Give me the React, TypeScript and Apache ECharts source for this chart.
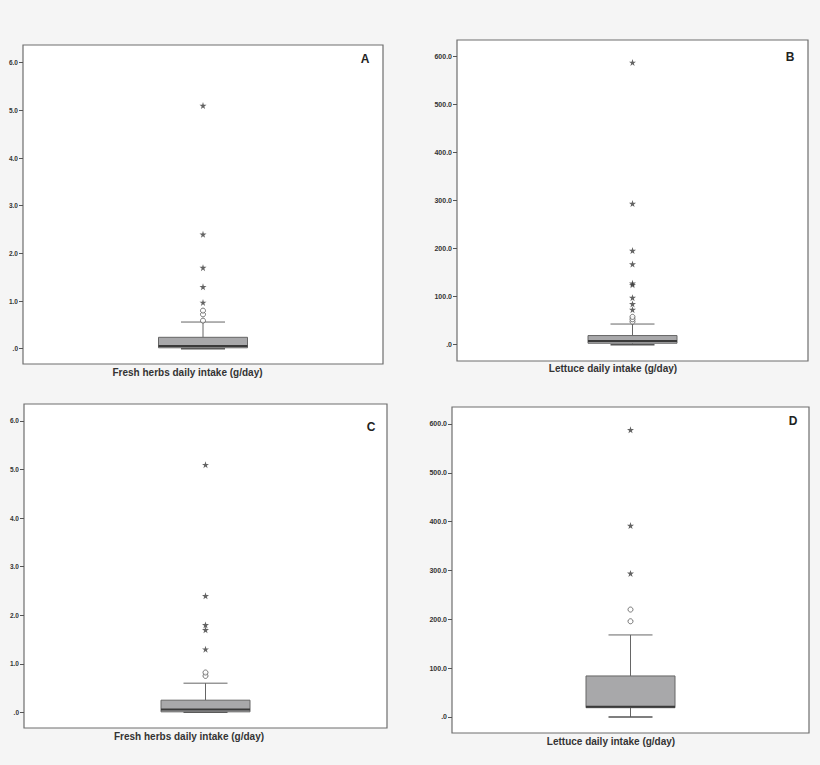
import React, { useEffect, useRef } from "react";
import * as echarts from "echarts";

// ---- Data ----
const panelLetters = ["A", "B", "C", "D"];
const axisTitles = [
  "Fresh herbs daily intake (g/day)",
  "Lettuce daily intake (g/day)",
  "Fresh herbs daily intake (g/day)",
  "Lettuce daily intake (g/day)",
];
const herbsTicks = [0, 1, 2, 3, 4, 5, 6];
const lettuceTicks = [0, 100, 200, 300, 400, 500, 600];

// [min, Q1, median, Q3, max (whisker)]
const boxA = [0, 0.02, 0.055, 0.24, 0.56];
const circlesA = [0.59, 0.72, 0.8];
const starsA = [0.97, 1.3, 1.7, 2.4, 5.1];

const boxB = [0, 3, 7.5, 19, 43];
const circlesB = [48, 53, 58];
const starsB = [73, 85, 98, 125, 128, 168, 196, 294, 588];

const boxC = [0, 0.01, 0.06, 0.25, 0.6];
const circlesC = [0.75, 0.82];
const starsC = [1.3, 1.7, 1.8, 2.4, 5.1];

const boxD = [0, 19, 21, 84, 168];
const circlesD = [196, 220];
const starsD = [294, 392, 588];

// ---- Layout ----
const grids = [
  { left: 23, top: 45, width: 360, height: 319 },
  { left: 457, top: 40, width: 351, height: 321 },
  { left: 24, top: 404, width: 363, height: 324 },
  { left: 452, top: 407, width: 357, height: 326 },
];
const yRanges = [
  { min: -0.32, max: 6.37 },
  { min: -34, max: 634.8 },
  { min: -0.323, max: 6.35 },
  { min: -32.8, max: 634.8 },
];
const letterPos = [
  [365, 59],
  [790, 57],
  [371, 427],
  [793, 421],
];
const titlePos = [
  [187.5, 372.5],
  [613, 368.5],
  [189, 736],
  [611, 741],
];

const STAR =
  "path://M50,0 L61,35 L98,35 L68,57 L79,91 L50,70 L21,91 L32,57 L2,35 L39,35 Z";

const boxes = [boxA, boxB, boxC, boxD];
const circles = [circlesA, circlesB, circlesC, circlesD];
const stars = [starsA, starsB, starsC, starsD];
const tickSets = [herbsTicks, lettuceTicks, herbsTicks, lettuceTicks];

function renderBox(params: any, api: any) {
  const vals = [api.value(1), api.value(2), api.value(3), api.value(4), api.value(5)];
  const x = api.coord([0, 0])[0];
  const py = vals.map((v) => api.coord([0, v])[1]);
  const boxHalf = 44.5;
  const capHalf = 22;
  const lineStyle = { stroke: "#666", lineWidth: 1 };
  return {
    type: "group",
    children: [
      { type: "line", shape: { x1: x, y1: py[4], x2: x, y2: py[3] }, style: lineStyle },
      { type: "line", shape: { x1: x, y1: py[1], x2: x, y2: py[0] }, style: lineStyle },
      { type: "line", shape: { x1: x - capHalf, y1: py[4], x2: x + capHalf, y2: py[4] }, style: lineStyle },
      { type: "line", shape: { x1: x - capHalf, y1: py[0], x2: x + capHalf, y2: py[0] }, style: { stroke: "#555", lineWidth: 1.5 } },
      {
        type: "rect",
        shape: { x: x - boxHalf, y: py[3], width: boxHalf * 2, height: py[1] - py[3] },
        style: { fill: "#a8a8aa", stroke: "#666", lineWidth: 1 },
      },
      { type: "line", shape: { x1: x - boxHalf, y1: py[2], x2: x + boxHalf, y2: py[2] }, style: { stroke: "#3a3a3a", lineWidth: 2 } },
    ],
  };
}

export default function App() {
  const ref = useRef<HTMLDivElement>(null);
  useEffect(() => {
    document.body.style.margin = "0";
    document.body.style.background = "#f5f5f5";
    const chart = echarts.init(ref.current!, null, { renderer: "svg" });
    const font = "Liberation Sans, Arial, sans-serif";
    const option: any = {
      animation: false,
      backgroundColor: "#f5f5f5",
      grid: grids.map((g) => ({
        ...g,
        show: true,
        backgroundColor: "#ffffff",
        borderColor: "#6e6e6e",
        borderWidth: 1.2,
        containLabel: false,
      })),
      xAxis: grids.map((_, i) => ({
        type: "category",
        gridIndex: i,
        data: ["x"],
        boundaryGap: true,
        axisLine: { show: false },
        axisTick: { show: false },
        axisLabel: { show: false },
        splitLine: { show: false },
      })),
      yAxis: grids.map((_, i) => ({
        type: "value",
        gridIndex: i,
        min: yRanges[i].min,
        max: yRanges[i].max,
        axisLine: { show: false },
        splitLine: { show: false },
        axisTick: {
          show: true,
          customValues: tickSets[i],
          length: 4,
          lineStyle: { color: "#555", width: 1 },
        },
        axisLabel: {
          show: true,
          customValues: tickSets[i],
          margin: 5,
          fontSize: i % 2 === 0 ? 6.5 : 7,
          fontWeight: "bold",
          fontFamily: font,
          color: "#333",
          formatter: (v: number) => (v === 0 ? ".0" : v.toFixed(1)),
        },
      })),
      series: [
        ...boxes.map((b, i) => ({
          type: "custom",
          name: "box" + panelLetters[i],
          xAxisIndex: i,
          yAxisIndex: i,
          renderItem: renderBox,
          encode: { x: 0, y: [1, 2, 3, 4, 5] },
          data: [[0, ...b]],
          z: 2,
        })),
        ...circles.map((c, i) => ({
          type: "scatter",
          name: "outliers" + panelLetters[i],
          xAxisIndex: i,
          yAxisIndex: i,
          symbol: "circle",
          symbolSize: 5,
          itemStyle: { color: "#ffffff", borderColor: "#555", borderWidth: 1 },
          data: c.map((v) => [0, v]),
          z: 3,
        })),
        ...stars.map((s, i) => ({
          type: "scatter",
          name: "extremes" + panelLetters[i],
          xAxisIndex: i,
          yAxisIndex: i,
          symbol: STAR,
          symbolSize: 7,
          itemStyle: { color: "#3c3c3c" },
          data: s.map((v) => [0, v]),
          z: 3,
        })),
      ],
      graphic: [
        ...panelLetters.map((l, i) => ({
          type: "text",
          x: letterPos[i][0],
          y: letterPos[i][1],
          z: 10,
          style: {
            text: l,
            fontSize: 12,
            fontWeight: "bold",
            fontFamily: font,
            fill: "#222",
            textAlign: "center",
            textVerticalAlign: "middle",
          },
        })),
        ...axisTitles.map((t, i) => ({
          type: "text",
          x: titlePos[i][0],
          y: titlePos[i][1],
          z: 10,
          style: {
            text: t,
            fontSize: 10,
            fontWeight: "bold",
            fontFamily: font,
            fill: "#333",
            textAlign: "center",
            textVerticalAlign: "middle",
          },
        })),
      ],
    };
    chart.setOption(option);
    return () => chart.dispose();
  }, []);
  return <div ref={ref} style={{ width: 820, height: 765 }} />;
}
